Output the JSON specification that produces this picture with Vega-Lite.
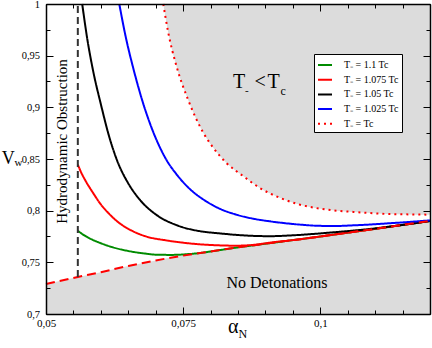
{
  "$schema": "https://vega.github.io/schema/vega-lite/v6.json",
  "width": 384,
  "height": 310,
  "autosize": {"type": "none"},
  "padding": {"left": 46, "top": 4, "right": 2, "bottom": 34},
  "background": "white",
  "config": {"view": {"stroke": null}, "font": "Liberation Serif", "text": {"font": "Liberation Serif", "color": "black"}},
  "datasets": {
    "boundary": [
      {"a": 0.05, "v": 0.729}, {"a": 0.0558, "v": 0.7358}, {"a": 0.06, "v": 0.7405}, {"a": 0.065, "v": 0.7465},
      {"a": 0.07, "v": 0.7518}, {"a": 0.075, "v": 0.7565}, {"a": 0.08, "v": 0.7605}, {"a": 0.085, "v": 0.7645},
      {"a": 0.09, "v": 0.768}, {"a": 0.095, "v": 0.7715}, {"a": 0.1, "v": 0.775}, {"a": 0.105, "v": 0.7787},
      {"a": 0.11, "v": 0.7824}, {"a": 0.115, "v": 0.7862}, {"a": 0.12, "v": 0.79}
    ],
    "obstruction": [{"a": 0.0558, "v": 0.7358}, {"a": 0.0558, "v": 1.0}],
    "curves": [
      {"s": "T₋ = 1.1 Tc", "a": 0.0558, "v": 0.7806}, {"s": "T₋ = 1.1 Tc", "a": 0.057, "v": 0.776},
      {"s": "T₋ = 1.1 Tc", "a": 0.0585, "v": 0.7718}, {"s": "T₋ = 1.1 Tc", "a": 0.06, "v": 0.7685},
      {"s": "T₋ = 1.1 Tc", "a": 0.0622, "v": 0.7645}, {"s": "T₋ = 1.1 Tc", "a": 0.065, "v": 0.761},
      {"s": "T₋ = 1.1 Tc", "a": 0.068, "v": 0.7585}, {"s": "T₋ = 1.1 Tc", "a": 0.0705, "v": 0.7573},
      {"s": "T₋ = 1.1 Tc", "a": 0.073, "v": 0.7572}, {"s": "T₋ = 1.1 Tc", "a": 0.0755, "v": 0.7578},
      {"s": "T₋ = 1.1 Tc", "a": 0.078, "v": 0.759}, {"s": "T₋ = 1.1 Tc", "a": 0.08, "v": 0.7605},
      {"s": "T₋ = 1.1 Tc", "a": 0.085, "v": 0.7645}, {"s": "T₋ = 1.1 Tc", "a": 0.09, "v": 0.768},
      {"s": "T₋ = 1.1 Tc", "a": 0.095, "v": 0.7715}, {"s": "T₋ = 1.1 Tc", "a": 0.1, "v": 0.775},
      {"s": "T₋ = 1.1 Tc", "a": 0.105, "v": 0.7787}, {"s": "T₋ = 1.1 Tc", "a": 0.11, "v": 0.7824},
      {"s": "T₋ = 1.1 Tc", "a": 0.115, "v": 0.7862}, {"s": "T₋ = 1.1 Tc", "a": 0.12, "v": 0.79},

      {"s": "T₋ = 1.075 Tc", "a": 0.0558, "v": 0.8445}, {"s": "T₋ = 1.075 Tc", "a": 0.0565, "v": 0.836},
      {"s": "T₋ = 1.075 Tc", "a": 0.0572, "v": 0.829}, {"s": "T₋ = 1.075 Tc", "a": 0.0586, "v": 0.817},
      {"s": "T₋ = 1.075 Tc", "a": 0.06, "v": 0.806}, {"s": "T₋ = 1.075 Tc", "a": 0.0615, "v": 0.797},
      {"s": "T₋ = 1.075 Tc", "a": 0.0635, "v": 0.7875}, {"s": "T₋ = 1.075 Tc", "a": 0.0655, "v": 0.781},
      {"s": "T₋ = 1.075 Tc", "a": 0.0682, "v": 0.7751}, {"s": "T₋ = 1.075 Tc", "a": 0.072, "v": 0.7712},
      {"s": "T₋ = 1.075 Tc", "a": 0.0755, "v": 0.7687}, {"s": "T₋ = 1.075 Tc", "a": 0.08, "v": 0.7668},
      {"s": "T₋ = 1.075 Tc", "a": 0.0846, "v": 0.7661}, {"s": "T₋ = 1.075 Tc", "a": 0.088, "v": 0.767},
      {"s": "T₋ = 1.075 Tc", "a": 0.0915, "v": 0.7695}, {"s": "T₋ = 1.075 Tc", "a": 0.095, "v": 0.7715},
      {"s": "T₋ = 1.075 Tc", "a": 0.1, "v": 0.775}, {"s": "T₋ = 1.075 Tc", "a": 0.105, "v": 0.7787},
      {"s": "T₋ = 1.075 Tc", "a": 0.11, "v": 0.7824}, {"s": "T₋ = 1.075 Tc", "a": 0.115, "v": 0.7862},
      {"s": "T₋ = 1.075 Tc", "a": 0.12, "v": 0.79},

      {"s": "T₋ = 1.05 Tc", "a": 0.0566, "v": 1.0}, {"s": "T₋ = 1.05 Tc", "a": 0.0575, "v": 0.967},
      {"s": "T₋ = 1.05 Tc", "a": 0.0586, "v": 0.935}, {"s": "T₋ = 1.05 Tc", "a": 0.06, "v": 0.903},
      {"s": "T₋ = 1.05 Tc", "a": 0.0615, "v": 0.872}, {"s": "T₋ = 1.05 Tc", "a": 0.063, "v": 0.848},
      {"s": "T₋ = 1.05 Tc", "a": 0.065, "v": 0.8264}, {"s": "T₋ = 1.05 Tc", "a": 0.0671, "v": 0.8106},
      {"s": "T₋ = 1.05 Tc", "a": 0.07, "v": 0.7964}, {"s": "T₋ = 1.05 Tc", "a": 0.074, "v": 0.7856},
      {"s": "T₋ = 1.05 Tc", "a": 0.078, "v": 0.7802}, {"s": "T₋ = 1.05 Tc", "a": 0.0817, "v": 0.778},
      {"s": "T₋ = 1.05 Tc", "a": 0.0846, "v": 0.7766}, {"s": "T₋ = 1.05 Tc", "a": 0.0878, "v": 0.7756},
      {"s": "T₋ = 1.05 Tc", "a": 0.0908, "v": 0.7753}, {"s": "T₋ = 1.05 Tc", "a": 0.0937, "v": 0.7758},
      {"s": "T₋ = 1.05 Tc", "a": 0.097, "v": 0.7768}, {"s": "T₋ = 1.05 Tc", "a": 0.1, "v": 0.778},
      {"s": "T₋ = 1.05 Tc", "a": 0.1045, "v": 0.78}, {"s": "T₋ = 1.05 Tc", "a": 0.1089, "v": 0.7822},
      {"s": "T₋ = 1.05 Tc", "a": 0.115, "v": 0.7862}, {"s": "T₋ = 1.05 Tc", "a": 0.12, "v": 0.79},

      {"s": "T₋ = 1.025 Tc", "a": 0.06336, "v": 1.0}, {"s": "T₋ = 1.025 Tc", "a": 0.0645, "v": 0.969},
      {"s": "T₋ = 1.025 Tc", "a": 0.066, "v": 0.936}, {"s": "T₋ = 1.025 Tc", "a": 0.0677, "v": 0.904},
      {"s": "T₋ = 1.025 Tc", "a": 0.0696, "v": 0.8754}, {"s": "T₋ = 1.025 Tc", "a": 0.0717, "v": 0.8515},
      {"s": "T₋ = 1.025 Tc", "a": 0.074, "v": 0.8338}, {"s": "T₋ = 1.025 Tc", "a": 0.0763, "v": 0.8206},
      {"s": "T₋ = 1.025 Tc", "a": 0.079, "v": 0.8097}, {"s": "T₋ = 1.025 Tc", "a": 0.0817, "v": 0.8018},
      {"s": "T₋ = 1.025 Tc", "a": 0.0846, "v": 0.7963}, {"s": "T₋ = 1.025 Tc", "a": 0.0878, "v": 0.7922},
      {"s": "T₋ = 1.025 Tc", "a": 0.0908, "v": 0.7897}, {"s": "T₋ = 1.025 Tc", "a": 0.0937, "v": 0.7878},
      {"s": "T₋ = 1.025 Tc", "a": 0.097, "v": 0.7862}, {"s": "T₋ = 1.025 Tc", "a": 0.1, "v": 0.7853},
      {"s": "T₋ = 1.025 Tc", "a": 0.1029, "v": 0.7852}, {"s": "T₋ = 1.025 Tc", "a": 0.106, "v": 0.7858},
      {"s": "T₋ = 1.025 Tc", "a": 0.1091, "v": 0.7866}, {"s": "T₋ = 1.025 Tc", "a": 0.112, "v": 0.7876},
      {"s": "T₋ = 1.025 Tc", "a": 0.116, "v": 0.789}, {"s": "T₋ = 1.025 Tc", "a": 0.12, "v": 0.7906},

      {"s": "T₋ = Tc", "a": 0.07138, "v": 1.0}, {"s": "T₋ = Tc", "a": 0.0723, "v": 0.972},
      {"s": "T₋ = Tc", "a": 0.0738, "v": 0.9396}, {"s": "T₋ = Tc", "a": 0.0759, "v": 0.9074},
      {"s": "T₋ = Tc", "a": 0.0787, "v": 0.8752}, {"s": "T₋ = Tc", "a": 0.0805, "v": 0.8608},
      {"s": "T₋ = Tc", "a": 0.0829, "v": 0.8461}, {"s": "T₋ = Tc", "a": 0.086, "v": 0.8332},
      {"s": "T₋ = Tc", "a": 0.089, "v": 0.8219}, {"s": "T₋ = Tc", "a": 0.0927, "v": 0.8123},
      {"s": "T₋ = Tc", "a": 0.0963, "v": 0.8058}, {"s": "T₋ = Tc", "a": 0.1, "v": 0.8019},
      {"s": "T₋ = Tc", "a": 0.103, "v": 0.8}, {"s": "T₋ = Tc", "a": 0.106, "v": 0.7988},
      {"s": "T₋ = Tc", "a": 0.1091, "v": 0.7977}, {"s": "T₋ = Tc", "a": 0.1121, "v": 0.7968},
      {"s": "T₋ = Tc", "a": 0.116, "v": 0.7964}, {"s": "T₋ = Tc", "a": 0.12, "v": 0.7961}
    ]
  },
  "resolve": {"axis": {"x": "independent", "y": "independent"}},
  "layer": [
    {
      "data": {"name": "boundary"},
      "mark": {"type": "area", "color": "#dcdcdc", "interpolate": "monotone"},
      "encoding": {
        "x": {"field": "a", "type": "quantitative", "scale": {"domain": [0.05, 0.12], "nice": false, "zero": false},
          "axis": {"orient": "bottom", "values": [0.05, 0.075, 0.1], "ticks": false, "domain": true, "domainColor": "black", "domainWidth": 1.5,
            "labels": true, "labelExpr": "replace(toString(datum.value), '.', ',')", "labelFont": "Liberation Serif", "labelFontSize": 11,
            "labelColor": "black", "labelPadding": 3, "labelFlush": false, "labelOverlap": false, "grid": false, "title": null, "zindex": 1}},
        "y": {"field": "v", "type": "quantitative", "scale": {"domain": [0.7, 1], "nice": false, "zero": false},
          "axis": {"orient": "left", "values": [0.7, 0.75, 0.8, 0.85, 0.9, 0.95, 1], "ticks": false, "domain": true, "domainColor": "black", "domainWidth": 1.5,
            "labels": true, "labelExpr": "replace(toString(datum.value), '.', ',')", "labelFont": "Liberation Serif", "labelFontSize": 10.5,
            "labelColor": "black", "labelPadding": 6.5, "labelFlush": false, "labelOverlap": false, "grid": false, "title": null, "zindex": 1}},
        "y2": {"datum": 0.7}
      }
    },
    {
      "data": {"name": "curves"},
      "transform": [{"filter": "datum.s === 'T₋ = Tc'"}],
      "mark": {"type": "area", "color": "#dcdcdc", "interpolate": "monotone"},
      "encoding": {
        "x": {"field": "a", "type": "quantitative", "scale": {"domain": [0.05, 0.12], "nice": false, "zero": false},
          "axis": {"orient": "bottom", "values": [0.05, 0.075, 0.1], "ticks": true, "tickSize": -7, "tickColor": "black", "tickWidth": 1,
            "domain": false, "labels": false, "grid": false, "title": null, "zindex": 1}},
        "y": {"field": "v", "type": "quantitative", "scale": {"domain": [0.7, 1], "nice": false, "zero": false},
          "axis": {"orient": "left", "values": [0.7, 0.75, 0.8, 0.85, 0.9, 0.95, 1], "ticks": true, "tickSize": -7, "tickColor": "black", "tickWidth": 1,
            "domain": false, "labels": false, "grid": false, "title": null, "zindex": 1}},
        "y2": {"datum": 1}
      }
    },
    {
      "data": {"name": "curves"},
      "mark": {"type": "line", "strokeWidth": 2, "interpolate": "monotone", "strokeCap": "butt"},
      "encoding": {
        "x": {"field": "a", "type": "quantitative", "scale": {"domain": [0.05, 0.12], "nice": false, "zero": false},
          "axis": {"orient": "bottom", "values": [0.05, 0.055, 0.06, 0.065, 0.07, 0.075, 0.08, 0.085, 0.09, 0.095, 0.1, 0.105, 0.11, 0.115, 0.12],
            "ticks": true, "tickSize": -4, "tickColor": "black", "tickWidth": 1, "domain": false, "labels": false, "grid": false, "title": null, "zindex": 1}},
        "y": {"field": "v", "type": "quantitative", "scale": {"domain": [0.7, 1], "nice": false, "zero": false},
          "axis": {"orient": "left", "values": [0.7, 0.725, 0.75, 0.775, 0.8, 0.825, 0.85, 0.875, 0.9, 0.925, 0.95, 0.975, 1],
            "ticks": true, "tickSize": -4, "tickColor": "black", "tickWidth": 1, "domain": false, "labels": false, "grid": false, "title": null, "zindex": 1}},
        "color": {"field": "s", "type": "nominal",
          "scale": {"domain": ["T₋ = 1.1 Tc", "T₋ = 1.075 Tc", "T₋ = 1.05 Tc", "T₋ = 1.025 Tc", "T₋ = Tc"],
            "range": ["#008b00", "#ff0000", "#000000", "#0000ff", "#ff0000"]},
          "legend": {"title": null, "orient": "none", "legendX": 268, "legendY": 50, "fillColor": "white", "strokeColor": "black",
            "padding": 3, "symbolType": "stroke", "symbolSize": 196, "symbolStrokeWidth": 2, "labelFont": "Liberation Serif",
            "labelFontSize": 10, "labelColor": "black", "labelOffset": 11, "rowPadding": 1.7, "labelLimit": 200, "cornerRadius": 0}},
        "strokeDash": {"field": "s", "type": "nominal",
          "scale": {"domain": ["T₋ = 1.1 Tc", "T₋ = 1.075 Tc", "T₋ = 1.05 Tc", "T₋ = 1.025 Tc", "T₋ = Tc"],
            "range": [[1, 0], [1, 0], [1, 0], [1, 0], [2, 4]]},
          "legend": {"title": null, "orient": "none", "legendX": 268, "legendY": 50, "fillColor": "white", "strokeColor": "black",
            "padding": 3, "symbolType": "stroke", "symbolSize": 196, "symbolStrokeWidth": 2, "labelFont": "Liberation Serif",
            "labelFontSize": 10, "labelColor": "black", "labelOffset": 11, "rowPadding": 1.7, "labelLimit": 200, "cornerRadius": 0}}
      }
    },
    {
      "data": {"name": "boundary"},
      "mark": {"type": "line", "color": "#ff0000", "strokeWidth": 2, "strokeDash": [9, 5], "interpolate": "monotone"},
      "encoding": {
        "x": {"field": "a", "type": "quantitative", "scale": {"domain": [0.05, 0.12], "nice": false, "zero": false},
          "axis": {"orient": "top", "values": [0.05, 0.075, 0.1], "ticks": true, "tickSize": -7, "tickColor": "black", "tickWidth": 1,
            "domain": true, "domainColor": "black", "domainWidth": 1.5, "labels": false, "grid": false, "title": null, "zindex": 1}},
        "y": {"field": "v", "type": "quantitative", "scale": {"domain": [0.7, 1], "nice": false, "zero": false},
          "axis": {"orient": "right", "values": [0.7, 0.75, 0.8, 0.85, 0.9, 0.95, 1], "ticks": true, "tickSize": -7, "tickColor": "black", "tickWidth": 1,
            "domain": true, "domainColor": "black", "domainWidth": 1.5, "labels": false, "grid": false, "title": null, "zindex": 1}}
      }
    },
    {
      "data": {"name": "obstruction"},
      "mark": {"type": "line", "color": "#333333", "strokeWidth": 2, "strokeDash": [7, 4]},
      "encoding": {
        "x": {"field": "a", "type": "quantitative", "scale": {"domain": [0.05, 0.12], "nice": false, "zero": false},
          "axis": {"orient": "top", "values": [0.05, 0.055, 0.06, 0.065, 0.07, 0.075, 0.08, 0.085, 0.09, 0.095, 0.1, 0.105, 0.11, 0.115, 0.12],
            "ticks": true, "tickSize": -4, "tickColor": "black", "tickWidth": 1, "domain": false, "labels": false, "grid": false, "title": null, "zindex": 1}},
        "y": {"field": "v", "type": "quantitative", "scale": {"domain": [0.7, 1], "nice": false, "zero": false},
          "axis": {"orient": "right", "values": [0.7, 0.725, 0.75, 0.775, 0.8, 0.825, 0.85, 0.875, 0.9, 0.925, 0.95, 0.975, 1],
            "ticks": true, "tickSize": -4, "tickColor": "black", "tickWidth": 1, "domain": false, "labels": false, "grid": false, "title": null, "zindex": 1}},
        "order": {"field": "v", "type": "quantitative"}
      }
    },
    {
      "data": {"values": [{"t": "Hydrodynamic Obstruction"}]},
      "mark": {"type": "text", "angle": 270, "align": "center", "baseline": "middle", "fontSize": 15},
      "encoding": {
        "x": {"datum": 0.05283, "type": "quantitative", "axis": null},
        "y": {"datum": 0.867, "type": "quantitative", "axis": null},
        "text": {"field": "t"}
      }
    },
    {
      "data": {"values": [{"t": "No Detonations"}]},
      "mark": {"type": "text", "align": "center", "baseline": "middle", "fontSize": 16},
      "encoding": {
        "x": {"datum": 0.0921, "type": "quantitative", "axis": null},
        "y": {"datum": 0.7303, "type": "quantitative", "axis": null},
        "text": {"field": "t"}
      }
    },
    {
      "data": {"values": [{"t": "T"}]},
      "mark": {"type": "text", "align": "left", "baseline": "alphabetic", "fontSize": 20},
      "encoding": {
        "x": {"datum": 0.0841, "type": "quantitative", "axis": null},
        "y": {"datum": 0.919, "type": "quantitative", "axis": null},
        "text": {"field": "t"}
      }
    },
    {
      "data": {"values": [{"t": "-"}]},
      "mark": {"type": "text", "align": "left", "baseline": "alphabetic", "fontSize": 11, "dx": 12, "dy": 6.5},
      "encoding": {
        "x": {"datum": 0.0841, "type": "quantitative", "axis": null},
        "y": {"datum": 0.919, "type": "quantitative", "axis": null},
        "text": {"field": "t"}
      }
    },
    {
      "data": {"values": [{"t": "<"}]},
      "mark": {"type": "text", "align": "left", "baseline": "alphabetic", "fontSize": 20, "dx": 21.5},
      "encoding": {
        "x": {"datum": 0.0841, "type": "quantitative", "axis": null},
        "y": {"datum": 0.919, "type": "quantitative", "axis": null},
        "text": {"field": "t"}
      }
    },
    {
      "data": {"values": [{"t": "T"}]},
      "mark": {"type": "text", "align": "left", "baseline": "alphabetic", "fontSize": 20, "dx": 34.5},
      "encoding": {
        "x": {"datum": 0.0841, "type": "quantitative", "axis": null},
        "y": {"datum": 0.919, "type": "quantitative", "axis": null},
        "text": {"field": "t"}
      }
    },
    {
      "data": {"values": [{"t": "c"}]},
      "mark": {"type": "text", "align": "left", "baseline": "alphabetic", "fontSize": 12, "dx": 47.5, "dy": 7},
      "encoding": {
        "x": {"datum": 0.0841, "type": "quantitative", "axis": null},
        "y": {"datum": 0.919, "type": "quantitative", "axis": null},
        "text": {"field": "t"}
      }
    },
    {
      "data": {"values": [{"t": "V"}]},
      "mark": {"type": "text", "align": "left", "baseline": "alphabetic", "fontSize": 18, "dx": -44.3},
      "encoding": {
        "x": {"datum": 0.05, "type": "quantitative", "axis": null},
        "y": {"datum": 0.8455, "type": "quantitative", "axis": null},
        "text": {"field": "t"}
      }
    },
    {
      "data": {"values": [{"t": "w"}]},
      "mark": {"type": "text", "align": "left", "baseline": "alphabetic", "fontSize": 11, "dx": -31.5, "dy": 2},
      "encoding": {
        "x": {"datum": 0.05, "type": "quantitative", "axis": null},
        "y": {"datum": 0.8455, "type": "quantitative", "axis": null},
        "text": {"field": "t"}
      }
    },
    {
      "data": {"values": [{"t": "α"}]},
      "mark": {"type": "text", "align": "left", "baseline": "alphabetic", "fontSize": 20, "dy": 19},
      "encoding": {
        "x": {"datum": 0.08318, "type": "quantitative", "axis": null},
        "y": {"datum": 0.7, "type": "quantitative", "axis": null},
        "text": {"field": "t"}
      }
    },
    {
      "data": {"values": [{"t": "N"}]},
      "mark": {"type": "text", "align": "left", "baseline": "alphabetic", "fontSize": 12, "dx": 10.5, "dy": 24},
      "encoding": {
        "x": {"datum": 0.08318, "type": "quantitative", "axis": null},
        "y": {"datum": 0.7, "type": "quantitative", "axis": null},
        "text": {"field": "t"}
      }
    }
  ]
}
